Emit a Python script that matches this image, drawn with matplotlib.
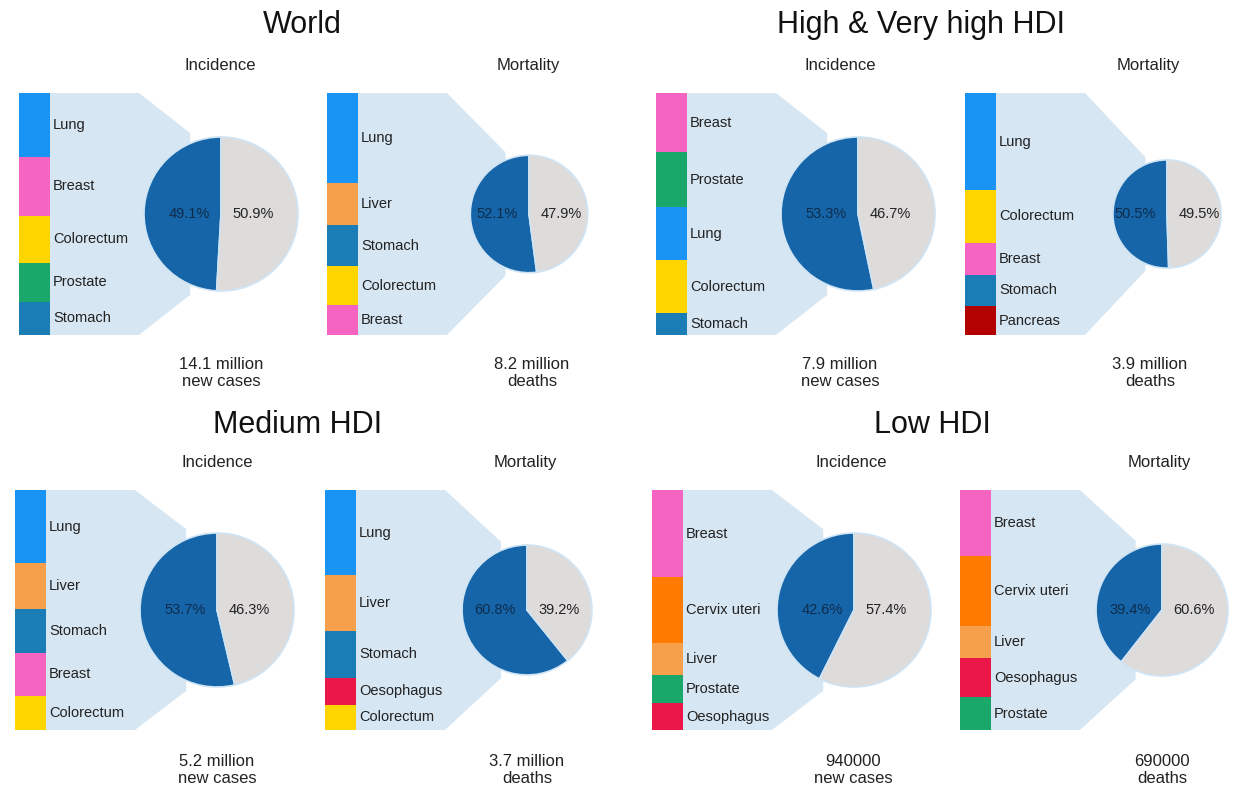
import matplotlib
matplotlib.use("Agg")
import matplotlib.pyplot as plt
import numpy as np

plt.rcParams['font.family'] = ['Liberation Sans', 'DejaVu Sans']

# --- data ---
regions = ['World', 'High & Very high HDI', 'Medium HDI', 'Low HDI']

world_inc_sites = ['Lung', 'Breast', 'Colorectum', 'Prostate', 'Stomach']
world_inc_vals = [1825, 1671, 1361, 1095, 952]
world_mort_sites = ['Lung', 'Liver', 'Stomach', 'Colorectum', 'Breast']
world_mort_vals = [1590, 745, 723, 694, 522]

high_inc_sites = ['Breast', 'Prostate', 'Lung', 'Colorectum', 'Stomach']
high_inc_vals = [1030, 960, 920, 920, 380]
high_mort_sites = ['Lung', 'Colorectum', 'Breast', 'Stomach', 'Pancreas']
high_mort_vals = [790, 430, 260, 255, 235]

med_inc_sites = ['Lung', 'Liver', 'Stomach', 'Breast', 'Colorectum']
med_inc_vals = [850, 530, 510, 505, 395]
med_mort_sites = ['Lung', 'Liver', 'Stomach', 'Oesophagus', 'Colorectum']
med_mort_vals = [800, 518, 442, 254, 235]

low_inc_sites = ['Breast', 'Cervix uteri', 'Liver', 'Prostate', 'Oesophagus']
low_inc_vals = [146, 109, 54, 47, 45]
low_mort_sites = ['Breast', 'Cervix uteri', 'Liver', 'Oesophagus', 'Prostate']
low_mort_vals = [75, 79, 36, 45, 37]

# share of the five leading sites (%)
inc_share = [49.1, 53.3, 53.7, 42.6]
mort_share = [52.1, 50.5, 60.8, 39.4]

# totals (millions) and captions
inc_total = [14.1, 7.9, 5.2, 0.94]
mort_total = [8.2, 3.9, 3.7, 0.69]
inc_caption = ['14.1 million\nnew cases', '7.9 million\nnew cases',
               '5.2 million\nnew cases', '940000\nnew cases']
mort_caption = ['8.2 million\ndeaths', '3.9 million\ndeaths',
                '3.7 million\ndeaths', '690000\ndeaths']

site_colors = {
    'Lung': '#1a94f4', 'Breast': '#f564c0', 'Colorectum': '#ffd500',
    'Prostate': '#1aa86a', 'Stomach': '#1a7db5', 'Liver': '#f7a04c',
    'Cervix uteri': '#ff7b00', 'Oesophagus': '#ea1748', 'Pancreas': '#b30000',
}

panels = [
    (world_inc_sites, world_inc_vals, world_mort_sites, world_mort_vals),
    (high_inc_sites, high_inc_vals, high_mort_sites, high_mort_vals),
    (med_inc_sites, med_inc_vals, med_mort_sites, med_mort_vals),
    (low_inc_sites, low_inc_vals, low_mort_sites, low_mort_vals),
]

# --- layout (pixels, measured from the top) ---
W, H = 1235, 788
title_pos = [(302, 25), (921, 25), (298, 425), (932, 425)]
sub_x = [(220, 528), (840, 1148), (217, 525), (851, 1159)]
sub_y = [65, 65, 462, 462]
bar_left = [(19, 327), (656, 965), (15, 325), (652, 960)]
bar_top = [93, 93, 490, 490]
bar_h = [242, 242, 240, 240]
cap_x = [(221, 532), (840, 1150), (217, 527), (853, 1162)]
cap_y = [373, 373, 770, 770]
BAR_W = 31
R_INC = 77
PIE_DX = 202

DARK = '#1565a8'
GREY = '#dedbdb'
FAN = '#d6e6f2'
TXT = '#222222'

fig = plt.figure(figsize=(W / 100, H / 100), dpi=100)
ax = fig.add_axes([0, 0, 1, 1])


def Y(y):
    return H - y


def draw_block(x0, top, height, sites, vals, share, radius):
    vals = np.asarray(vals, dtype=float)
    hs = vals / vals.sum() * height
    x_r = x0 + BAR_W
    cx = x0 + PIE_DX
    cy = top + height / 2
    r = radius
    # connecting fan
    x1 = x_r + 0.52 * (cx - x_r)
    x2 = cx - 0.4 * r
    fx = [x_r, x1, x2, x2, x1, x_r]
    fy = [top, top, cy - 1.05 * r, cy + 1.05 * r, top + height, top + height]
    ax.fill(fx, [Y(v) for v in fy], color=FAN, lw=0, zorder=1)
    # stacked bar
    cum = top
    for s, h in zip(sites, hs):
        ax.bar(x0, h, width=BAR_W, bottom=Y(cum + h), align='edge',
               color=site_colors[s], lw=0, zorder=2)
        ax.text(x_r + 3, Y(cum + h / 2), s, fontsize=10.5, color=TXT,
                ha='left', va='center', zorder=4)
        cum += h
    # pie
    ax.pie([share, 100 - share], colors=[DARK, GREY], startangle=90,
           counterclock=True, center=(cx, Y(cy)), radius=r, frame=True,
           wedgeprops=dict(edgecolor='#cfe4f4', linewidth=1.2, zorder=3))
    ax.text(cx - 32, Y(cy), f'{share:.1f}%', fontsize=10.5, color='#0f2c4c',
            ha='center', va='center', zorder=4)
    ax.text(cx + 32, Y(cy), f'{100 - share:.1f}%', fontsize=10.5, color=TXT,
            ha='center', va='center', zorder=4)


for i, reg in enumerate(regions):
    isites, ivals, msites, mvals = panels[i]
    ax.text(title_pos[i][0], Y(title_pos[i][1]), reg, fontsize=22,
            color='#111111', ha='center', va='center')
    ax.text(sub_x[i][0], Y(sub_y[i]), 'Incidence', fontsize=12,
            color=TXT, ha='center', va='center')
    ax.text(sub_x[i][1], Y(sub_y[i]), 'Mortality', fontsize=12,
            color=TXT, ha='center', va='center')
    r_m = R_INC * np.sqrt(mort_total[i] / inc_total[i])
    draw_block(bar_left[i][0], bar_top[i], bar_h[i], isites, ivals,
               inc_share[i], R_INC)
    draw_block(bar_left[i][1], bar_top[i], bar_h[i], msites, mvals,
               mort_share[i], r_m)
    ax.text(cap_x[i][0], Y(cap_y[i]), inc_caption[i], fontsize=12,
            color=TXT, ha='center', va='center', linespacing=1.1)
    ax.text(cap_x[i][1], Y(cap_y[i]), mort_caption[i], fontsize=12,
            color=TXT, ha='center', va='center', linespacing=1.1)

ax.set_xlim(0, W)
ax.set_ylim(0, H)
ax.set_aspect('auto')
ax.axis('off')

fig.savefig('out.png', dpi=100, facecolor='white')
